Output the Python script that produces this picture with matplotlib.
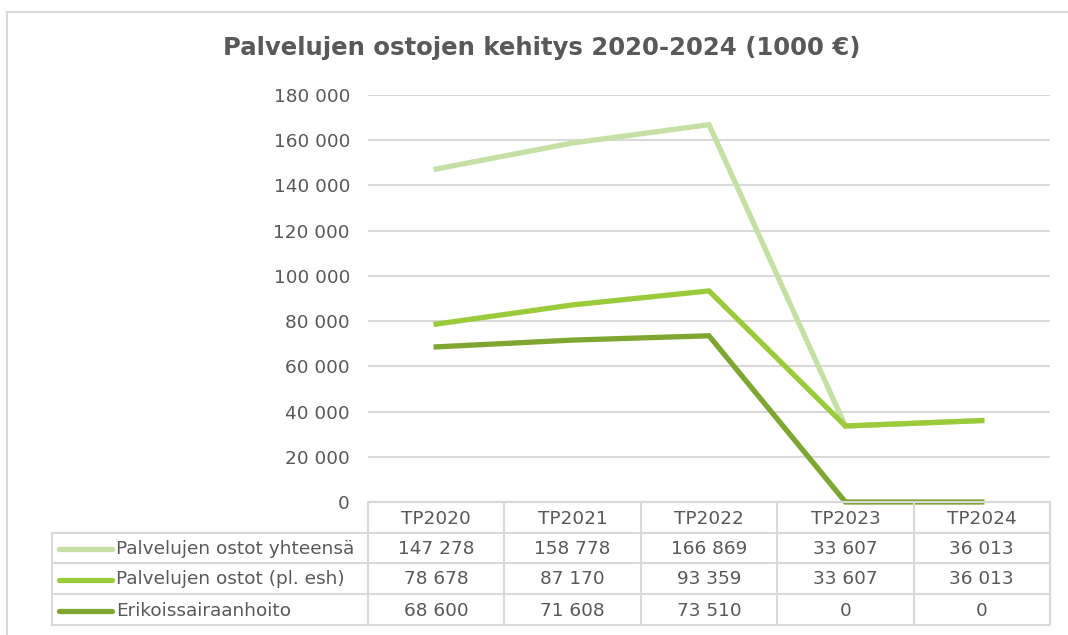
import matplotlib
matplotlib.use("Agg")
import matplotlib.pyplot as plt
from matplotlib.ticker import FuncFormatter
from matplotlib.lines import Line2D

plt.rcParams['font.family'] = ['DejaVu Sans']
plt.rcParams['font.sans-serif'] = ['DejaVu Sans']

# data
years = ["TP2020", "TP2021", "TP2022", "TP2023", "TP2024"]
series_names = ["Palvelujen ostot yhteensä", "Palvelujen ostot (pl. esh)", "Erikoissairaanhoito"]
yhteensa = [147278, 158778, 166869, 33607, 36013]
pl_esh = [78678, 87170, 93359, 33607, 36013]
esh = [68600, 71608, 73510, 0, 0]
colors = ["#C5E0A4", "#9BCB3B", "#7EA631"]

TEXT = "#595959"
GRID = "#D9D9D9"
W, H = 1068, 635
FONT = 'DejaVu Sans'
FS = 13.3


def fx(x):
    return x / W


def fy(y):
    return 1 - y / H


def fmt(v):
    return f"{int(v):,}".replace(",", " ")


fig = plt.figure(figsize=(W / 100, H / 100), dpi=100)

# outer chart border
fig.add_artist(Line2D([fx(7), fx(7)], [fy(12), fy(640)], color=GRID, lw=1.5))
fig.add_artist(Line2D([fx(7), fx(1070)], [fy(12), fy(12)], color=GRID, lw=1.5))

left, right = 368, 1050
top, bottom = 95, 502
ax = fig.add_axes([fx(left), fy(bottom), fx(right - left), (bottom - top) / H])

all_series = [yhteensa, pl_esh, esh]
x = list(range(len(years)))
for vals, c in zip(all_series, colors):
    ax.plot(x, vals, color=c, lw=3.8, solid_joinstyle='miter', zorder=3, clip_on=False)

ax.set_xlim(-0.5, len(years) - 0.5)
ax.set_ylim(0, 180000)
ax.set_yticks(range(0, 180001, 20000))
ax.yaxis.set_major_formatter(FuncFormatter(lambda v, p: fmt(v)))
ax.tick_params(axis='y', length=0, pad=13, labelsize=FS, labelcolor=TEXT)
for lab in ax.get_yticklabels():
    lab.set_family(FONT)
ax.set_xticks([])
ax.grid(axis='y', color=GRID, lw=1.5)
ax.set_axisbelow(True)
for s in ax.spines.values():
    s.set_visible(False)

fig.text(fx(542), fy(48), "Palvelujen ostojen kehitys 2020-2024 (1000 €)",
         ha='center', va='center', fontsize=17.6, fontweight='bold', color=TEXT, family=FONT)

# data table
col_edges = [left + i * (right - left) / len(years) for i in range(len(years) + 1)]
row_edges = [502, 533, 563, 594, 625]
label_left = 52

lk = dict(color=GRID, lw=1.5)
fig.add_artist(Line2D([fx(left), fx(right)], [fy(row_edges[0])] * 2, **lk))
for yy in row_edges[1:]:
    fig.add_artist(Line2D([fx(label_left), fx(right)], [fy(yy)] * 2, **lk))
for xx in col_edges:
    fig.add_artist(Line2D([fx(xx)] * 2, [fy(row_edges[0]), fy(row_edges[-1])], **lk))
fig.add_artist(Line2D([fx(label_left)] * 2, [fy(row_edges[1]), fy(row_edges[-1])], **lk))

tk = dict(fontsize=FS, color=TEXT, family=FONT, va='center')
for i, yr in enumerate(years):
    cx = (col_edges[i] + col_edges[i + 1]) / 2
    fig.text(fx(cx), fy((row_edges[0] + row_edges[1]) / 2 + 1), yr, ha='center', **tk)

for r, (name, vals, c) in enumerate(zip(series_names, all_series, colors)):
    cy = (row_edges[r + 1] + row_edges[r + 2]) / 2 + 1
    fig.add_artist(Line2D([fx(59), fx(112)], [fy(cy)] * 2, color=c, lw=3.8,
                          solid_capstyle='round'))
    fig.text(fx(116), fy(cy), name, ha='left', **tk)
    for i, v in enumerate(vals):
        cx = (col_edges[i] + col_edges[i + 1]) / 2
        fig.text(fx(cx), fy(cy), fmt(v), ha='center', **tk)

fig.savefig("out.png", dpi=100)
